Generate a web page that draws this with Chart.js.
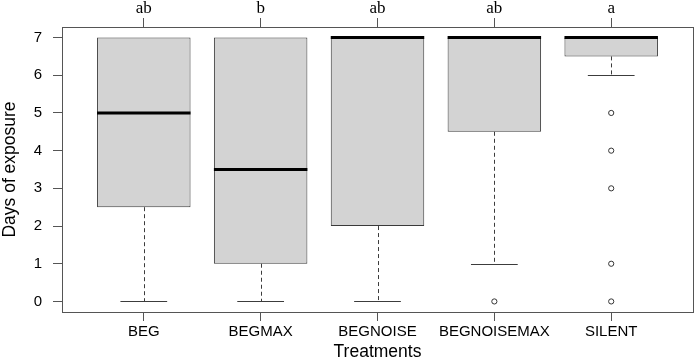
<!DOCTYPE html>
<html>
<head>
<meta charset="utf-8">
<script src="https://cdn.jsdelivr.net/npm/chart.js@4/dist/chart.umd.min.js"></script>
<style>
  html, body { margin: 0; padding: 0; background: #fff; }
  #wrap { width: 700px; height: 363px; }
</style>
</head>
<body>
<div id="wrap"><canvas id="c" width="700" height="363"></canvas></div>
<script>
// Treatment groups and their summary statistics (days of exposure)
const treatments   = ['BEG', 'BEGMAX', 'BEGNOISE', 'BEGNOISEMAX', 'SILENT'];
const groupLetters = ['ab', 'b', 'ab', 'ab', 'a'];
const lowerWhisker = [0, 0, 0, 1, 6];
const lowerQuart   = [2.5, 1, 2, 4.5, 6.5];
const medians      = [5, 3.5, 7, 7, 7];
const upperQuart   = [7, 7, 7, 7, 7];
const upperWhisker = [7, 7, 7, 7, 7];
const outliers     = [[], [], [], [0], [5, 4, 3, 1, 0]];
const yTickValues  = [0, 1, 2, 3, 4, 5, 6, 7];

const positions = treatments.map((_, i) => i + 1);
const boxData = positions.map((x, i) => ({ x, y: [lowerQuart[i], upperQuart[i]] }));
const outlierData = outliers.flatMap((vals, i) => vals.map(v => ({ x: i + 1, y: v })));

const BOX_HALF = 0.4;     // half box width in x units
const CAP_HALF = 0.2;     // half staple width in x units

// whiskers, staples, medians and the surrounding frame
const boxParts = {
  id: 'boxParts',
  afterDatasetsDraw(chart) {
    const { ctx, chartArea: a, scales } = chart;
    const xs = scales.x, ys = scales.y;
    ctx.save();
    positions.forEach((p, i) => {
      const cx = Math.round(xs.getPixelForValue(p)) + 0.5;
      const capL = xs.getPixelForValue(p - CAP_HALF);
      const capR = xs.getPixelForValue(p + CAP_HALF);
      ctx.strokeStyle = '#3c3c3c';
      ctx.lineWidth = 1;
      // lower whisker + staple
      if (lowerWhisker[i] < lowerQuart[i]) {
        const py = Math.round(ys.getPixelForValue(lowerWhisker[i])) + 0.5;
        ctx.setLineDash([4, 3]);
        ctx.beginPath();
        ctx.moveTo(cx, ys.getPixelForValue(lowerQuart[i]));
        ctx.lineTo(cx, py);
        ctx.stroke();
        ctx.setLineDash([]);
        ctx.beginPath();
        ctx.moveTo(capL, py);
        ctx.lineTo(capR, py);
        ctx.stroke();
      }
      // upper whisker + staple
      if (upperWhisker[i] > upperQuart[i]) {
        const py = Math.round(ys.getPixelForValue(upperWhisker[i])) + 0.5;
        ctx.setLineDash([4, 3]);
        ctx.beginPath();
        ctx.moveTo(cx, ys.getPixelForValue(upperQuart[i]));
        ctx.lineTo(cx, py);
        ctx.stroke();
        ctx.setLineDash([]);
        ctx.beginPath();
        ctx.moveTo(capL, py);
        ctx.lineTo(capR, py);
        ctx.stroke();
      }
      // median
      ctx.setLineDash([]);
      ctx.strokeStyle = '#000';
      ctx.lineWidth = 3;
      ctx.lineCap = 'butt';
      const my = ys.getPixelForValue(medians[i]);
      ctx.beginPath();
      ctx.moveTo(xs.getPixelForValue(p - BOX_HALF), my);
      ctx.lineTo(xs.getPixelForValue(p + BOX_HALF), my);
      ctx.stroke();
    });
    // plot frame
    ctx.strokeStyle = '#555';
    ctx.lineWidth = 1;
    ctx.strokeRect(Math.round(a.left) + 0.5, Math.round(a.top) + 0.5,
                   Math.round(a.right - a.left), Math.round(a.bottom - a.top));
    ctx.restore();
  }
};

const sans = "'Liberation Sans', Arial, sans-serif";
const serif = "'Liberation Serif', 'Times New Roman', serif";

new Chart(document.getElementById('c'), {
  type: 'bar',
  data: {
    datasets: [
      {
        type: 'bar',
        data: boxData,
        backgroundColor: '#d3d3d3',
        borderColor: '#3a3a3a',
        borderWidth: 1,
        borderSkipped: false,
        barPercentage: 2 * BOX_HALF,
        categoryPercentage: 1,
        xAxisID: 'x',
        yAxisID: 'y'
      },
      {
        type: 'scatter',
        data: outlierData,
        pointStyle: 'circle',
        pointRadius: 2.6,
        pointBorderWidth: 1,
        pointBorderColor: '#333',
        pointBackgroundColor: '#fff',
        xAxisID: 'x',
        yAxisID: 'y'
      }
    ]
  },
  options: {
    responsive: false,
    animation: false,
    events: [],
    layout: { padding: { left: 0, right: 7, top: 0, bottom: 0 } },
    plugins: { legend: { display: false }, tooltip: { enabled: false } },
    scales: {
      x: {
        type: 'linear',
        position: 'bottom',
        offset: false,
        min: 0.3,
        max: 5.7,
        afterBuildTicks: s => { s.ticks = positions.map(v => ({ value: v })); },
        afterFit: s => { s.height = 51; },
        grid: { offset: false, drawOnChartArea: false, drawTicks: true, tickLength: 9, color: '#555' },
        border: { display: false },
        ticks: {
          callback: v => treatments[v - 1],
          color: '#000',
          font: { family: sans, size: 15 },
          padding: 2,
          maxRotation: 0,
          autoSkip: false
        },
        title: {
          display: true,
          text: 'Treatments',
          color: '#000',
          font: { family: sans, size: 17.5 },
          padding: { top: 0, bottom: 0 }
        }
      },
      x2: {
        type: 'linear',
        position: 'top',
        offset: false,
        min: 0.3,
        max: 5.7,
        afterBuildTicks: s => { s.ticks = positions.map(v => ({ value: v })); },
        afterFit: s => { s.height = 27; },
        grid: { offset: false, drawOnChartArea: false, drawTicks: true, tickLength: 9, color: '#555' },
        border: { display: false },
        ticks: {
          callback: v => groupLetters[v - 1],
          color: '#000',
          font: { family: serif, size: 17 },
          padding: -1,
          maxRotation: 0,
          autoSkip: false
        }
      },
      y: {
        type: 'linear',
        position: 'left',
        min: -0.28,
        max: 7.28,
        afterBuildTicks: s => { s.ticks = yTickValues.map(v => ({ value: v })); },
        afterFit: s => { s.width = 62; },
        grid: { drawOnChartArea: false, drawTicks: true, tickLength: 9, color: '#555' },
        border: { display: false },
        ticks: {
          color: '#000',
          font: { family: sans, size: 15 },
          padding: 11
        },
        title: {
          display: true,
          text: 'Days of exposure',
          color: '#000',
          font: { family: sans, size: 17.5 },
          padding: { top: 0, bottom: 0 }
        }
      }
    }
  },
  plugins: [boxParts]
});
</script>
</body>
</html>
